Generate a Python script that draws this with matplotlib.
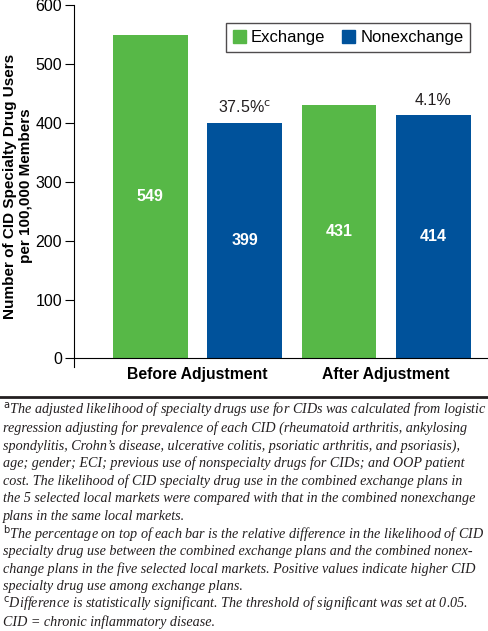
import matplotlib.pyplot as plt
from matplotlib.lines import Line2D
from matplotlib.patches import Patch

# Data

groups = ["Before Adjustment", "After Adjustment"]
exchange = [549, 431]
nonexchange = [399, 414]
rel_diff = [r"37.5%$^{\mathrm{c}}$", "4.1%"]

footnotes = [
    r"$^{\mathrm{a}}$The adjusted likelihood of specialty drugs use for CIDs was calculated from logistic",
    "regression adjusting for prevalence of each CID (rheumatoid arthritis, ankylosing",
    "spondylitis, Crohn’s disease, ulcerative colitis, psoriatic arthritis, and psoriasis),",
    "age; gender; ECI; previous use of nonspecialty drugs for CIDs; and OOP patient",
    "cost. The likelihood of CID specialty drug use in the combined exchange plans in",
    "the 5 selected local markets were compared with that in the combined nonexchange",
    "plans in the same local markets.",
    r"$^{\mathrm{b}}$The percentage on top of each bar is the relative difference in the likelihood of CID",
    "specialty drug use between the combined exchange plans and the combined nonex-",
    "change plans in the five selected local markets. Positive values indicate higher CID",
    "specialty drug use among exchange plans.",
    r"$^{\mathrm{c}}$Difference is statistically significant. The threshold of significant was set at 0.05.",
    "CID = chronic inflammatory disease.",
]

green = "#57b847"
blue = "#00529b"

plt.rcParams["font.family"] = ["Liberation Sans", "DejaVu Sans"]

fig = plt.figure(figsize=(4.89, 6.31), dpi=100)
ax = fig.add_axes([0.151, 0.418, 0.847, 0.574])

# Spines first (set_position resets the ticks)

ax.spines["top"].set_visible(False)
ax.spines["right"].set_visible(False)
ax.spines["bottom"].set_position(("data", 0))

# Bars: exchange and nonexchange alternate, equally spaced

width = 0.79
ex_pos = [0, 2]
nx_pos = [1, 3]

ax.bar(ex_pos, exchange, width=width, color=green)
ax.bar(nx_pos, nonexchange, width=width, color=blue)

for x, v in zip(ex_pos + nx_pos, exchange + nonexchange):
    ax.text(x, v / 2, str(v), ha="center", va="center",
            color="white", fontsize=11.5, fontweight="bold")

for x, v, lab in zip(nx_pos, nonexchange, rel_diff):
    ax.text(x, v + 12, lab, ha="center", va="bottom",
            color="#231f20", fontsize=11.5)

ax.set_xlim(-0.81, 3.58)
ax.set_ylim(-15, 600)
ax.set_yticks(range(0, 601, 100))
ax.set_xticks([0.5, 2.5])
ax.set_xticklabels(groups, fontsize=11.3, fontweight="bold")
ax.tick_params(axis="x", length=0, pad=6)
ax.tick_params(axis="y", length=6.5, width=0.8, labelsize=11.5, pad=2)

ax.set_ylabel("Number of CID Specialty Drug Users\nper 100,000 Members",
              fontsize=11, fontweight="bold", labelpad=2, linespacing=1.1)

handles = [Patch(color=green, label="Exchange"),
           Patch(color=blue, label="Nonexchange")]
leg = ax.legend(handles=handles, ncol=2, loc="upper right",
                bbox_to_anchor=(0.957, 0.950), borderaxespad=0, fontsize=12,
                frameon=True, fancybox=False, edgecolor="#231f20",
                handlelength=0.8, handleheight=0.8, handletextpad=0.3,
                columnspacing=1.0, borderpad=0.4)
leg.get_frame().set_linewidth(1.0)

# Rule and footnotes

fig.add_artist(Line2D([0, 1], [1 - 397 / 631, 1 - 397 / 631],
                      color="#231f20", linewidth=2))

y0 = 410.7
step = 17.6
for i, line in enumerate(footnotes):
    fig.text(3 / 489, 1 - (y0 + i * step) / 631, line, ha="left", va="center",
             fontsize=10.2, style="italic", color="#231f20",
             family=["Liberation Serif", "DejaVu Serif"])

fig.savefig("out.png", dpi=100)
